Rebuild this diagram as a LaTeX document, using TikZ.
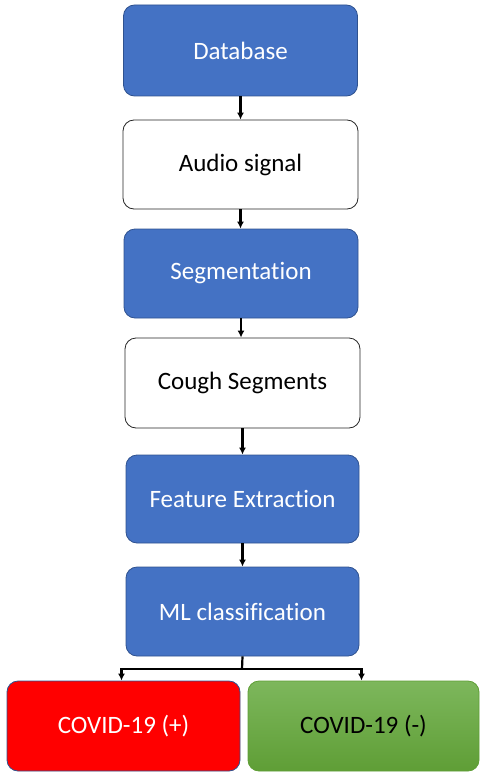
\documentclass[tikz,border=0pt]{standalone}
\usepackage{fontspec}
\setmainfont{Carlito}[Ligatures={NoCommon}]
\usetikzlibrary{arrows.meta,shapes.misc}
\definecolor{boxblue}{HTML}{4472C4}
\definecolor{edgeblue}{HTML}{2F528F}
\definecolor{gtop}{HTML}{7DB75C}
\definecolor{gbot}{HTML}{5F9E36}
\tikzset{
  base/.style={rectangle, rounded corners=11pt, inner sep=0pt, line width=0.8pt,
    font=\fontsize{25}{30}\selectfont},
  bluebox/.style={base, fill=boxblue, draw=edgeblue, text=white},
  whitebox/.style={base, fill=white, draw=black!85, text=black},
  redbox/.style={base, fill=red, draw=edgeblue, text=white},
  greenbox/.style={base, top color=gtop, bottom color=gbot, draw=gbot, text=black},
  arr/.style={-{Latex[length=7pt,width=7pt]}, line width=2.2pt, black},
  plainline/.style={line width=2.2pt, black},
}
\begin{document}
\begin{tikzpicture}[x=1pt,y=-1pt]
\useasboundingbox (0,0) rectangle (479,773);
\node[bluebox, minimum width=234pt, minimum height=91pt] (db) at (240.5,50.5) {Database};
\node[whitebox, minimum width=235pt, minimum height=89pt] (audio) at (240.5,164.5) {Audio signal};
\node[bluebox, minimum width=234pt, minimum height=89pt] (seg) at (241,273.5) {Segmentation};
\node[whitebox, minimum width=235pt, minimum height=90pt] (cough) at (242.5,383) {Cough Segments};
\node[bluebox, minimum width=233pt, minimum height=88pt] (feat) at (242.5,499) {Feature Extraction};
\node[bluebox, minimum width=233pt, minimum height=89pt] (ml) at (242.5,611.5) {ML classification};
\node[redbox, minimum width=233pt, minimum height=90pt] (pos) at (123.5,726) {COVID-19 (+)};
\node[greenbox, minimum width=231pt, minimum height=90pt] (neg) at (363.5,726) {COVID-19 (-)};
\draw[arr] (db.south) -- (db.south |- audio.north);
\draw[arr] (audio.south) -- (audio.south |- seg.north);
\draw[arr] (seg.south) -- (seg.south |- cough.north);
\draw[arr] (cough.south) -- (cough.south |- feat.north);
\draw[arr] (feat.south) -- (feat.south |- ml.north);
\coordinate (split) at (242,669);
\draw[plainline] (ml.south) -- (split);
\draw[arr] (split) -| ([xshift=-2pt]pos.north);
\draw[arr] (split) -| ([xshift=-2pt]neg.north);
\end{tikzpicture}
\end{document}
